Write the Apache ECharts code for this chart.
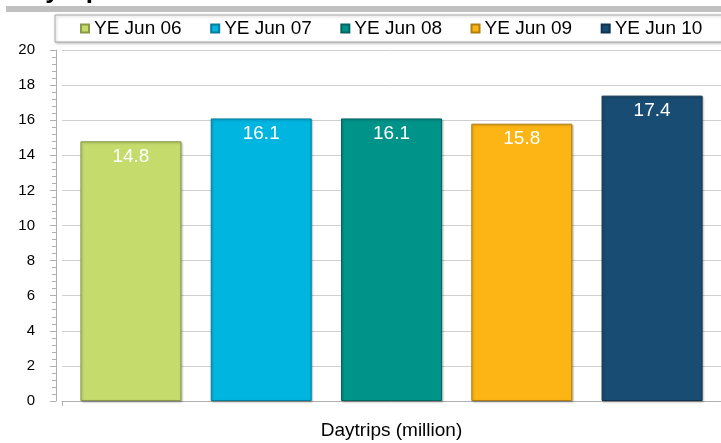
<!DOCTYPE html>
<html>
<head>
<meta charset="utf-8">
<script src="https://cdn.jsdelivr.net/npm/echarts@6/dist/echarts.min.js"></script>
<style>
html, body { margin: 0; padding: 0; background: #fff; }
#main { width: 721px; height: 443px; }
</style>
</head>
<body>
<div id="main"></div>
<script>
var myChart = echarts.init(document.getElementById('main'));

var categories = ['Daytrips (million)'];
var years = ['YE Jun 06', 'YE Jun 07', 'YE Jun 08', 'YE Jun 09', 'YE Jun 10'];
var values = [14.8, 16.1, 16.1, 15.8, 17.4];
var colors = ['#c5dc6c', '#00b5e0', '#00938a', '#fdb515', '#184c72']; // заливка столбцов
var edges = ['#8a9a4a', '#007e9c', '#006660', '#b07e0e', '#0f334e'];  // тёмная кромка

var font = '"Liberation Sans", Arial, sans-serif';

// каждый год - отдельный ряд в одной категории
var series = years.map(function (name, i) {
    return {
        name: name,
        type: 'bar',
        data: [values[i]],
        barWidth: 101,
        barGap: '29%',
        itemStyle: {
            color: colors[i],
            borderColor: edges[i],
            borderWidth: 1,
            shadowColor: 'rgba(0,0,0,0.25)',
            shadowBlur: 2,
            shadowOffsetX: 1,
            shadowOffsetY: 1
        },
        label: {
            show: true,
            position: 'insideTop',
            distance: 6,
            color: '#fff',
            fontSize: 19,
            fontFamily: font,
            formatter: function (p) { return p.value.toFixed(1); }
        }
    };
});

var option = {
    animation: false,
    textStyle: { fontFamily: font },
    graphic: [
        {
            type: 'text', left: 12, top: -22, silent: true,
            style: { text: 'Daytrips', font: 'bold 26px ' + font, fill: '#000' }
        },
        {
            type: 'rect', left: 6, top: 6, silent: true,
            shape: { width: 715, height: 6 },
            style: { fill: '#c0c0c0' }
        }
    ],
    legend: {
        left: 55,
        top: 15,
        width: 640,
        padding: [4, 20, 4, 25],
        itemWidth: 8,
        itemHeight: 8,
        itemGap: 28.5,
        icon: 'rect',
        borderColor: '#a8a8a8',
        borderWidth: 1,
        backgroundColor: '#fff',
        shadowColor: 'rgba(0,0,0,0.25)',
        shadowBlur: 3,
        shadowOffsetX: 1,
        shadowOffsetY: 1,
        textStyle: { fontSize: 19, color: '#000', fontFamily: font },
        data: years
    },
    // столбцы сдвинуты вправо, ось Y вынесена на 6px влево
    grid: { left: 62, right: 0, top: 50, bottom: 42 },
    xAxis: {
        type: 'category',
        data: categories,
        axisLine: { lineStyle: { color: '#b0b0b0' } },
        axisTick: { show: true, length: 5, lineStyle: { color: '#b0b0b0' } },
        axisLabel: { fontSize: 19, color: '#000', margin: 20 }
    },
    yAxis: {
        type: 'value',
        min: 0,
        max: 20,
        interval: 2,
        offset: 6,
        axisLine: { show: true, lineStyle: { color: '#b0b0b0' } },
        axisTick: { show: true, length: 6, lineStyle: { color: '#b0b0b0' } },
        minorTick: { show: true, splitNumber: 5, length: 4, lineStyle: { color: '#b0b0b0' } },
        splitLine: { lineStyle: { color: '#d0d0d0' } },
        axisLabel: { fontSize: 15, color: '#000', margin: 21 }
    },
    series: series
};

myChart.setOption(option);
</script>
</body>
</html>
